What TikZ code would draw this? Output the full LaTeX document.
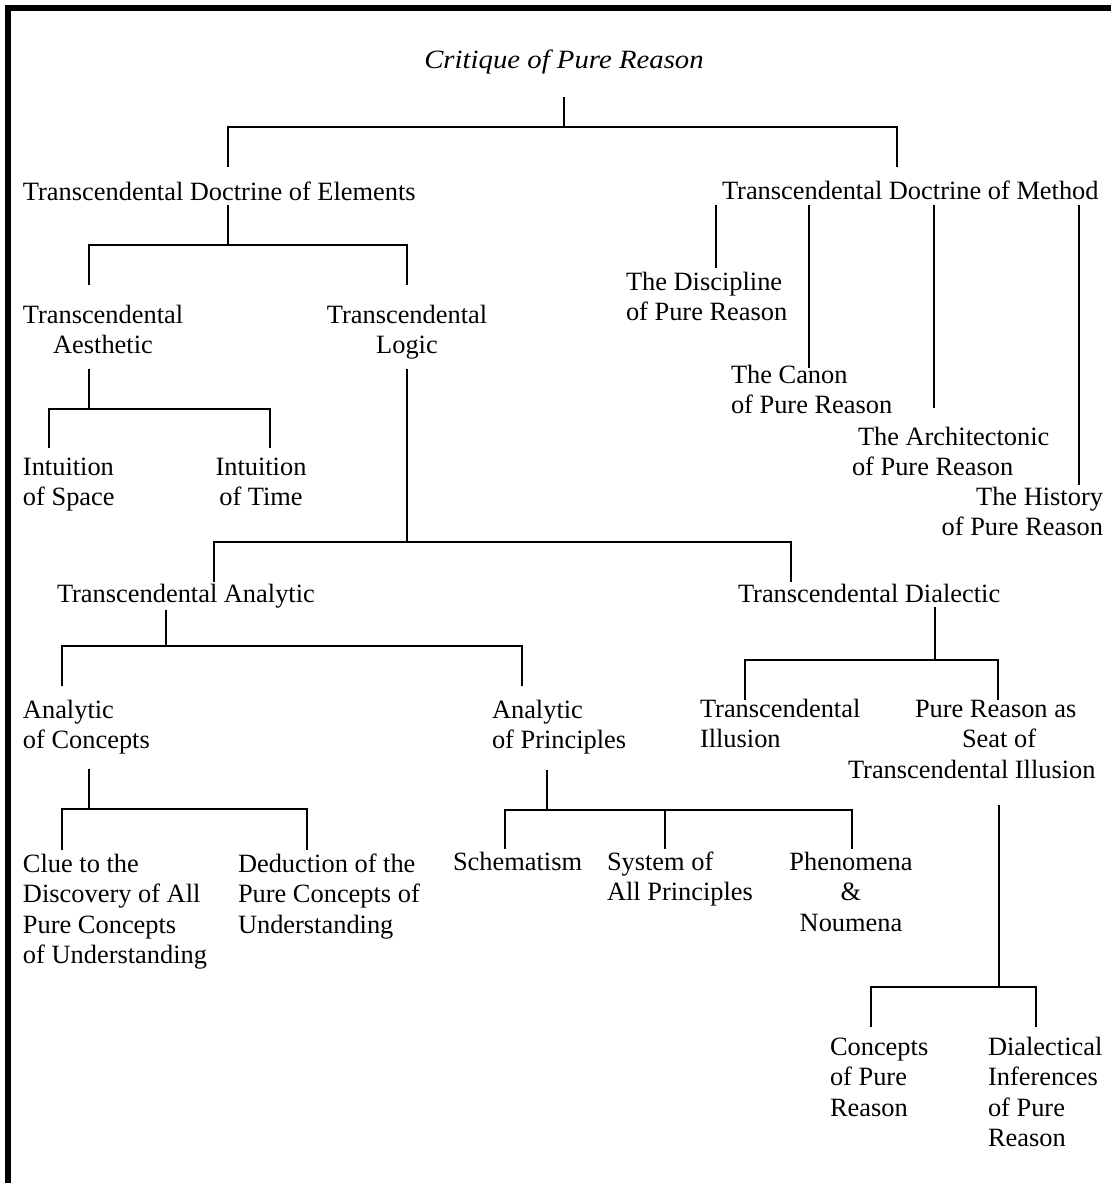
\documentclass[tikz,border=0pt]{standalone}
\usepackage{fontspec}
\setmainfont{Liberation Serif}
\usepackage{graphicx}
% one drawing unit
\newlength\pxu
\setlength\pxu{0.5pt}
\begin{document}
\begin{tikzpicture}[x=0.5pt,y=-0.5pt,
  lbl/.style={inner sep=0pt, outer sep=0pt, font=\fontsize{13.2}{15.25}\selectfont},
  lblL/.style={lbl, align=left, anchor=base west},
  lblC/.style={lbl, align=center, anchor=base},
  lblR/.style={lbl, align=right, anchor=base east},
  conn/.style={line width=1pt, line join=miter}]

\useasboundingbox (0,0) rectangle (1111,1183);
% frame bars along the top and left edge
\fill (5,5) rectangle (1111,11);
\fill (5,5) rectangle (11,1183);

% ---------- labels (placed at the baseline of their last line) ----------
\node[lblC] (crit) at (564,68) {\scalebox{1.09}[1]{\itshape Critique of Pure Reason}};

\node[lblL] (elem) at (23,200) {Transcendental Doctrine of Elements};
\node[lblL] (meth) at (722,199) {Transcendental Doctrine of Method};

\node[lblC] (aes) at (103,353.5) {Transcendental\\Aesthetic};
\node[lblC] (log) at (407,353.5) {Transcendental\\Logic};

\node[lblL] (space) at (23,505.5) {Intuition\\of Space};
\node[lblC] (time) at (261,505.5) {Intuition\\of Time};

\node[lblL] (disc) at (626,320.5) {The Discipline\\of Pure Reason};
\node[lblL] (canon) at (731,413.5) {The Canon\\of Pure Reason};
\node[lblL] (arch) at (852,475.5) {\hspace*{6\pxu}The Architectonic\\of Pure Reason};
\node[lblR] (hist) at (1103,535.5) {The History\\of Pure Reason};

\node[lblL] (ana) at (57,602) {Transcendental Analytic};
\node[lblL] (dia) at (738,602) {Transcendental Dialectic};

\node[lblL] (aoc) at (23,748.5) {Analytic\\of Concepts};
\node[lblL] (aop) at (492,748.5) {Analytic\\of Principles};
\node[lblL] (ill) at (700,747.5) {Transcendental\\Illusion};
\node[lblL] (seat) at (848,778) {\hspace*{67\pxu}Pure Reason as\\\hspace*{114\pxu}Seat of\\Transcendental Illusion};

\node[lblL] (clue) at (23,963.5) {Clue to the\\Discovery of All\\Pure Concepts\\of Understanding};
\node[lblL] (ded) at (238,933) {Deduction of the\\Pure Concepts of\\Understanding};
\node[lblL] (sch) at (453,870) {Schematism};
\node[lblL] (sys) at (607,900.5) {System of\\All Principles};
\node[lblC] (phe) at (851,931) {Phenomena\\\&\\Noumena};

\node[lblL] (con) at (830,1116) {Concepts\\of Pure\\Reason};
\node[lblL] (inf) at (988,1146.5) {Dialectical\\Inferences\\of Pure\\Reason};

% ---------- connector end points ----------
\coordinate (crit-out) at (564,97);   \coordinate (crit-bus) at (564,127);
\coordinate (elem-in)  at (228,167);  \coordinate (meth-in)  at (897,167);

\coordinate (elem-out) at (228,205);  \coordinate (elem-bus) at (228,245);
\coordinate (aes-in)   at (89,285);   \coordinate (log-in)   at (407,285);

\coordinate (aes-out)  at (89,369);   \coordinate (aes-bus)  at (89,409);
\coordinate (space-in) at (49,448);   \coordinate (time-in)  at (270,448);

\coordinate (log-out)  at (407,369);  \coordinate (log-bus)  at (407,542);
\coordinate (ana-in)   at (214,582);  \coordinate (dia-in)   at (791,582);

\coordinate (ana-out)  at (166,610);  \coordinate (ana-bus)  at (166,646);
\coordinate (aoc-in)   at (62,686);   \coordinate (aop-in)   at (522,686);

\coordinate (aoc-out)  at (89,769);   \coordinate (aoc-bus)  at (89,809);
\coordinate (clue-in)  at (62,850);   \coordinate (ded-in)   at (307,850);

\coordinate (aop-out)  at (547,770);  \coordinate (aop-bus)  at (547,810);
\coordinate (sch-in)   at (505,849);  \coordinate (sys-in)   at (665,849);
\coordinate (phe-in)   at (852,849);

\coordinate (dia-out)  at (935,607);  \coordinate (dia-bus)  at (935,660);
\coordinate (ill-in)   at (745,700);  \coordinate (seat-in)  at (998,700);

\coordinate (seat-out) at (999,805);  \coordinate (seat-bus) at (999,987);
\coordinate (con-in)   at (871,1027); \coordinate (inf-in)   at (1036,1027);

\coordinate (disc-top) at (716,205);  \coordinate (disc-in)  at (716,268);
\coordinate (canon-top) at (809,205); \coordinate (canon-in) at (809,368);
\coordinate (arch-top) at (934,205);  \coordinate (arch-in)  at (934,408);
\coordinate (hist-top) at (1079,205); \coordinate (hist-in)  at (1079,485);

% ---------- connectors ----------
\draw[conn] (crit-out) -- (crit-bus);
\draw[conn] (elem-in) |- (crit-bus) -| (meth-in);

\draw[conn] (elem-out) -- (elem-bus);
\draw[conn] (aes-in) |- (elem-bus) -| (log-in);

\draw[conn] (aes-out) -- (aes-bus);
\draw[conn] (space-in) |- (aes-bus) -| (time-in);

\draw[conn] (log-out) -- (log-bus);
\draw[conn] (ana-in) |- (log-bus) -| (dia-in);

\draw[conn] (ana-out) -- (ana-bus);
\draw[conn] (aoc-in) |- (ana-bus) -| (aop-in);

\draw[conn] (aoc-out) -- (aoc-bus);
\draw[conn] (clue-in) |- (aoc-bus) -| (ded-in);

\draw[conn] (aop-out) -- (aop-bus);
\draw[conn] (sch-in) |- (aop-bus) -| (phe-in);
\draw[conn] (sys-in) -- (sys-in |- aop-bus);

\draw[conn] (dia-out) -- (dia-bus);
\draw[conn] (ill-in) |- (dia-bus) -| (seat-in);

\draw[conn] (seat-out) -- (seat-bus);
\draw[conn] (con-in) |- (seat-bus) -| (inf-in);

\draw[conn] (disc-top) -- (disc-in);
\draw[conn] (canon-top) -- (canon-in);
\draw[conn] (arch-top) -- (arch-in);
\draw[conn] (hist-top) -- (hist-in);
\end{tikzpicture}
\end{document}
